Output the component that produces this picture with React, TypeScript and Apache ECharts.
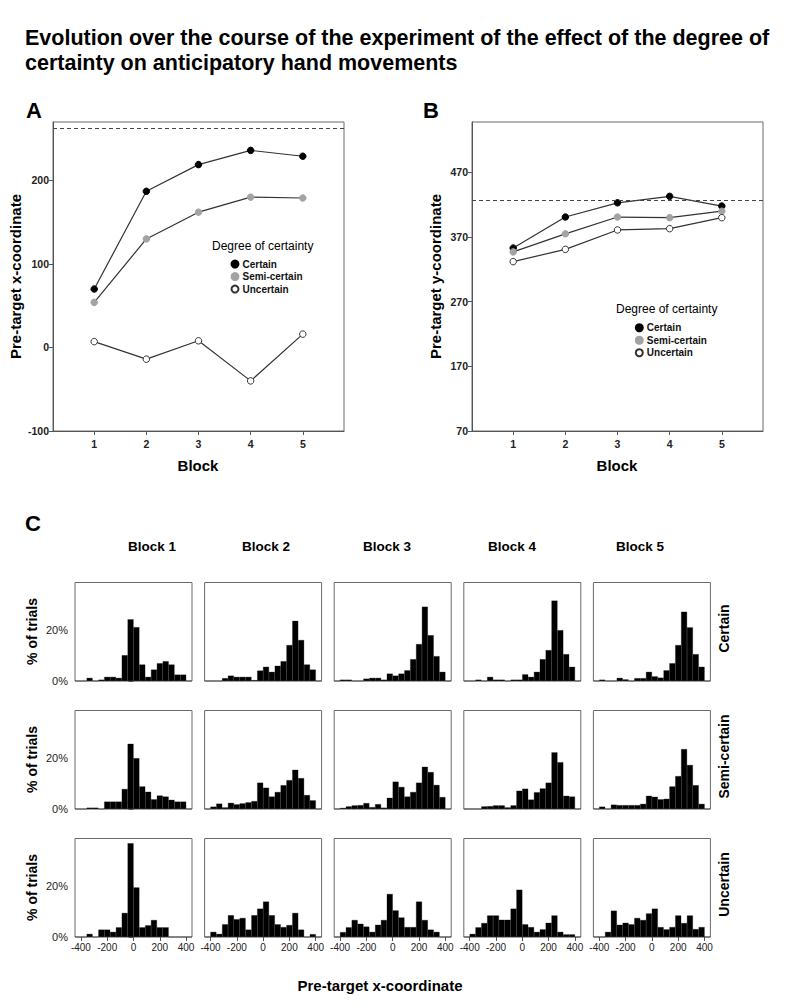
import React, { useEffect, useRef } from "react";
import * as echarts from "echarts";

// ---------- Data ----------
const blocks = [1, 2, 3, 4, 5];
const seriesNames = ["Certain", "Semi-certain", "Uncertain"];

// Panel A: pre-target x-coordinate per block
const certainA = [70, 187, 219, 236, 229];
const semiA = [54, 130, 162, 180, 179];
const uncertainA = [7, -14, 8, -40, 16];
const targetA = 262;

// Panel B: pre-target y-coordinate per block
const certainB = [353, 401, 423, 433, 418];
const semiB = [347, 375, 401, 400, 410];
const uncertainB = [332, 351, 381, 383, 400];
const targetB = 427;

// Tick labels
const ticksA = [-100, 0, 100, 200];
const ticksB = [70, 170, 270, 370, 470];
const histXTicks = [-400, -200, 0, 200, 400];
const histYTicks = [0, 20];

// Panel C: histogram bins (lower edges) and % of trials per bin
const binLowerEdges = [
  -445, -400.5, -356, -311.5, -267, -222.5, -178, -133.5, -89, -44.5,
  0, 44.5, 89, 133.5, 178, 222.5, 267, 311.5, 356, 400.5,
];
const histCertain = [
  [0, 0, 1.2, 0, 0.5, 1.6, 1.6, 1.2, 10.2, 24.4, 21.3, 6.5, 1.6, 4.5, 7.0, 7.8, 6.5, 2.5, 2.5, 0],
  [0, 0, 0, 1.1, 2.1, 1.6, 1.6, 1.6, 0.3, 4.1, 5.6, 3.6, 6.0, 7.8, 14.2, 23.8, 16.2, 6.5, 4.5, 0],
  [0, 0.5, 0.5, 0, 0, 0.9, 1.2, 1.2, 0.5, 2.9, 2.1, 2.9, 4.2, 8.6, 14.6, 29.4, 18.1, 9.8, 3.6, 0],
  [0, 0, 0.5, 0, 1.6, 0.5, 0.5, 0, 0.5, 0.5, 2.6, 1.6, 3.6, 8.6, 12.2, 31.8, 20.1, 10.6, 5.6, 0],
  [0, 0.5, 0, 0, 1.2, 0.6, 0, 1.1, 1.1, 3.6, 1.8, 1.3, 4.2, 7.0, 14.2, 27.4, 21.2, 10.6, 5.6, 0],
];
const histSemi = [
  [0, 0, 0.5, 0.5, 0, 2.9, 2.9, 2.9, 7.9, 25.8, 20.1, 8.9, 6.8, 3.8, 5.3, 4.9, 3.6, 2.9, 2.9, 0],
  [0, 0.9, 2.1, 0.6, 2.4, 1.8, 2.2, 2.6, 3.1, 10.4, 8.4, 4.9, 6.7, 9.4, 11.4, 15.5, 12.2, 5.5, 3.4, 0],
  [0, 0.4, 1.0, 1.4, 1.5, 2.3, 0.7, 1.9, 0.5, 4.4, 10.8, 8.7, 4.9, 6.7, 10.4, 16.7, 14.6, 9.5, 4.7, 0],
  [0, 0, 0, 1.0, 1.1, 1.4, 1.4, 0.6, 1.4, 7.2, 8.0, 3.7, 6.6, 8.1, 10.4, 22.4, 18.5, 5.2, 4.9, 0],
  [0, 0.9, 0, 1.7, 1.5, 1.5, 1.5, 1.5, 2.0, 5.2, 4.8, 3.8, 4.0, 8.9, 13.0, 23.7, 17.4, 9.4, 2.0, 0],
];
const histUncertain = [
  [0, 0, 1.2, 0, 2.9, 2.9, 2.0, 3.8, 9.5, 37.1, 19.6, 3.8, 4.6, 6.7, 3.8, 3.8, 0, 0, 0, 0],
  [0, 2.0, 1.2, 5.0, 8.6, 7.0, 7.5, 2.9, 8.6, 11.2, 14.0, 8.6, 5.0, 3.9, 4.7, 9.5, 2.9, 0, 1.1, 0],
  [0, 1.9, 3.8, 6.7, 5.2, 4.1, 2.0, 4.8, 6.7, 17.0, 10.5, 7.7, 3.9, 3.9, 14.0, 6.7, 2.9, 2.0, 0, 0],
  [0, 1.2, 3.8, 5.5, 8.5, 8.5, 6.8, 6.8, 11.2, 18.7, 5.0, 3.9, 2.0, 3.0, 5.6, 8.5, 2.0, 1.0, 1.0, 0],
  [0, 0, 2.0, 10.4, 4.8, 5.6, 5.0, 7.5, 6.7, 9.3, 11.2, 3.9, 3.0, 3.9, 8.5, 5.5, 8.5, 3.1, 3.9, 0],
];
const blockLabels = ["Block 1", "Block 2", "Block 3", "Block 4", "Block 5"];
const rowLabels = ["Certain", "Semi-certain", "Uncertain"];

// ---------- Styles ----------
const FONT = '"Liberation Sans", Arial, sans-serif';
const NARROW = '"Liberation Sans Narrow", "Liberation Sans", Arial, sans-serif';
const LINE = "#333333";
const FRAME = "#6a6a6a";
const AXIS = "#555555";
const colors = ["#000000", "#a3a3a3", "#ffffff"];
const blockLabelX = [152, 266, 387, 512, 640];

function text(x: number, y: number, t: string, size: number, opts: any = {}) {
  return {
    type: "text",
    x,
    y,
    rotation: opts.rotation || 0,
    silent: true,
    style: {
      text: t,
      fill: opts.color || "#000",
      fontSize: size,
      fontWeight: opts.weight || "bold",
      fontFamily: opts.family || FONT,
      align: opts.align || "left",
      textAlign: opts.align || "left",
      verticalAlign: "middle",
      textVerticalAlign: "middle",
    },
  };
}

function buildOption() {
  const grid: any[] = [];
  const xAxis: any[] = [];
  const yAxis: any[] = [];
  const series: any[] = [];

  // ---- Panels A and B ----
  const panels = [
    { left: 53, data: [certainA, semiA, uncertainA], min: -100, max: 270, ticks: ticksA, target: targetA },
    { left: 472, data: [certainB, semiB, uncertainB], min: 70, max: 548, ticks: ticksB, target: targetB },
  ];
  panels.forEach((p, pi) => {
    grid.push({ left: p.left, top: 122, width: 291, height: 309, show: true, borderColor: FRAME, borderWidth: 1 });
    xAxis.push({
      type: "value",
      gridIndex: pi,
      min: 0.21,
      max: 5.79,
      splitLine: { show: false },
      axisLine: { show: true, onZero: false, lineStyle: { color: AXIS } },
      axisTick: { show: true, length: 4, lineStyle: { color: AXIS }, customValues: blocks },
      axisLabel: { customValues: blocks, fontSize: 10.5, fontWeight: "bold", fontFamily: FONT, color: "#222", margin: 7 },
    });
    yAxis.push({
      type: "value",
      gridIndex: pi,
      min: p.min,
      max: p.max,
      splitLine: { show: false },
      axisLine: { show: true, onZero: false, lineStyle: { color: AXIS } },
      axisTick: { show: true, length: 4, lineStyle: { color: AXIS }, customValues: p.ticks },
      axisLabel: { customValues: p.ticks, fontSize: 10.5, fontWeight: "bold", fontFamily: FONT, color: "#222", margin: 4 },
    });
    p.data.forEach((vals, si) => {
      const s: any = {
        type: "line",
        name: seriesNames[si],
        xAxisIndex: pi,
        yAxisIndex: pi,
        data: vals.map((v, i) => [blocks[i], v]),
        symbol: "circle",
        symbolSize: 6.5,
        lineStyle: { color: LINE, width: 1.2 },
        itemStyle: { color: colors[si], borderColor: si === 2 ? LINE : colors[si], borderWidth: 1 },
        z: 3 + si,
      };
      if (si === 0) {
        s.markLine = {
          silent: true,
          symbol: ["none", "none"],
          label: { show: false },
          lineStyle: { color: "#444", type: [4, 3], width: 1.2 },
          data: [{ yAxis: p.target }],
        };
      }
      series.push(s);
    });
  });

  // ---- Panel C histograms ----
  const rows = [histCertain, histSemi, histUncertain];
  rows.forEach((row, r) => {
    row.forEach((vals, c) => {
      const k = r * 5 + c;
      const gi = 2 + k;
      grid.push({
        left: 75 + c * 129.6,
        top: 582.5 + r * 128,
        width: 117,
        height: 98.5,
        show: true,
        borderColor: FRAME,
        borderWidth: 1,
      });
      const lastRow = r === 2;
      const firstCol = c === 0;
      xAxis.push({
        type: "category",
        gridIndex: gi,
        data: binLowerEdges,
        show: false,
        boundaryGap: true,
      });
      xAxis.push({
        type: "value",
        gridIndex: gi,
        min: -445,
        max: 445,
        position: "bottom",
        splitLine: { show: false },
        axisLine: { show: false, onZero: false },
        axisTick: { show: lastRow, length: 4, lineStyle: { color: AXIS }, customValues: histXTicks },
        axisLabel: {
          show: lastRow,
          customValues: histXTicks,
          fontSize: 10,
          fontFamily: NARROW,
          color: "#222",
          margin: 5,
        },
      });
      yAxis.push({
        type: "value",
        gridIndex: gi,
        min: 0,
        max: 39,
        splitLine: { show: false },
        axisLine: { show: false },
        axisTick: { show: firstCol, length: 5, lineStyle: { color: AXIS }, customValues: histYTicks },
        axisLabel: {
          show: firstCol,
          customValues: histYTicks,
          formatter: (v: number) => v + "%",
          fontSize: 11,
          fontFamily: FONT,
          color: "#222",
          margin: 7,
        },
      });
      series.push({
        type: "bar",
        name: rowLabels[r] + " – " + blockLabels[c],
        xAxisIndex: 2 + 2 * k,
        yAxisIndex: gi,
        data: vals,
        barCategoryGap: "0%",
        itemStyle: { color: "#000", borderColor: "#000", borderWidth: 0.3 },
        z: 2,
      });
    });
  });

  // ---- Texts ----
  const graphic: any[] = [
    text(25, 38, "Evolution over the course of the experiment of the effect of the degree of", 21.5),
    text(25, 63, "certainty on anticipatory hand movements", 21.5),
    text(26, 110, "A", 22),
    text(423, 110, "B", 22),
    text(25, 523, "C", 22),
    text(15, 276.5, "Pre-target x-coordinate", 15, { align: "center", rotation: Math.PI / 2 }),
    text(435, 276.5, "Pre-target y-coordinate", 15, { align: "center", rotation: Math.PI / 2 }),
    text(198, 465, "Block", 15, { align: "center" }),
    text(617, 465, "Block", 15, { align: "center" }),
    text(212, 246, "Degree of certainty", 12, { weight: "normal" }),
    text(616, 309, "Degree of certainty", 12, { weight: "normal" }),
    text(380, 985, "Pre-target x-coordinate", 15, { align: "center" }),
  ];
  blockLabels.forEach((b, c) => {
    graphic.push(text(blockLabelX[c], 546, b, 13.5, { align: "center", family: NARROW }));
  });
  rowLabels.forEach((l, r) => {
    const cy = 582.5 + r * 128 + 49;
    graphic.push(text(32, cy, "% of trials", 14, { align: "center", rotation: Math.PI / 2 }));
    graphic.push(text(724, cy - 3, l, 14, { align: "center", rotation: Math.PI / 2 }));
  });

  const legendBase = {
    orient: "vertical",
    data: seriesNames,
    icon: "circle",
    itemWidth: 7,
    itemHeight: 7,
    itemGap: 0,
    padding: 0,
    selectedMode: false,
    textStyle: { fontSize: 10, fontWeight: "bold", fontFamily: FONT, color: "#111", lineHeight: 12.5, padding: [0, 0, 0, -1] },
  };

  return {
    animation: false,
    backgroundColor: "#ffffff",
    grid,
    xAxis,
    yAxis,
    series,
    legend: [
      { ...legendBase, left: 230.5, top: 257.8 },
      { ...legendBase, left: 634.8, top: 321.5 },
    ],
    graphic,
  };
}

export default function App() {
  const ref = useRef<HTMLDivElement>(null);
  useEffect(() => {
    document.body.style.margin = "0";
    const chart = echarts.init(ref.current as HTMLDivElement, null, { renderer: "svg" });
    chart.setOption(buildOption() as any);
    return () => chart.dispose();
  }, []);
  return <div ref={ref} style={{ width: 799, height: 1008 }} />;
}
